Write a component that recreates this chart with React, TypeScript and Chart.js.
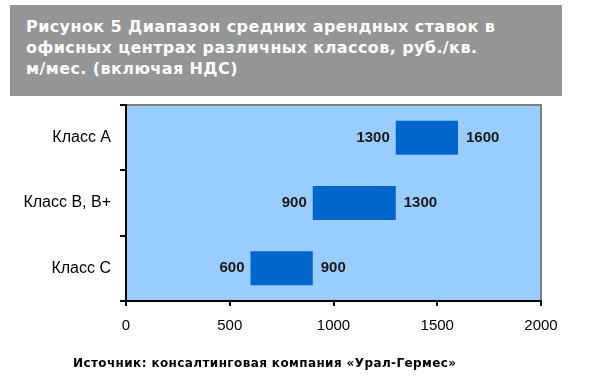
import React, { useEffect, useRef } from "react";
import { Chart, registerables } from "chart.js";

Chart.register(...registerables);

const categories = ["Класс A", "Класс B, B+", "Класс C"];
const rangeStart = [1300, 900, 600];
const rangeEnd = [1600, 1300, 900];
const xTicks = [0, 500, 1000, 1500, 2000];
const titleLines = [
  "Рисунок 5 Диапазон средних арендных ставок в",
  "офисных центрах различных классов, руб./кв.",
  "м/мес. (включая НДС)",
];
const sourceText = "Источник: консалтинговая компания «Урал-Гермес»";

const plotBg = {
  id: "plotBg",
  beforeDraw(chart: any) {
    const { ctx, chartArea } = chart;
    ctx.save();
    ctx.fillStyle = "#99CCFF";
    ctx.fillRect(chartArea.left, chartArea.top, chartArea.right - chartArea.left, chartArea.bottom - chartArea.top);
    ctx.strokeStyle = "#808080";
    ctx.lineWidth = 2;
    ctx.beginPath();
    ctx.moveTo(chartArea.left, chartArea.top);
    ctx.lineTo(chartArea.right, chartArea.top);
    ctx.lineTo(chartArea.right, chartArea.bottom);
    ctx.stroke();
    ctx.restore();
  },
};

const rangeLabels = {
  id: "rangeLabels",
  afterDatasetsDraw(chart: any) {
    const { ctx } = chart;
    const meta = chart.getDatasetMeta(0);
    const xs = chart.scales.x;
    ctx.save();
    ctx.font = "bold 15px Arial, 'Liberation Sans', sans-serif";
    ctx.fillStyle = "#1a1a1a";
    ctx.textBaseline = "middle";
    meta.data.forEach((bar: any, i: number) => {
      const y = bar.y;
      const x0 = xs.getPixelForValue(rangeStart[i]);
      const x1 = xs.getPixelForValue(rangeEnd[i]);
      ctx.textAlign = "right";
      ctx.fillText(String(rangeStart[i]), x0 - 6, y);
      ctx.textAlign = "left";
      ctx.fillText(String(rangeEnd[i]), x1 + 8, y);
    });
    ctx.restore();
  },
};

export default function App() {
  const ref = useRef<HTMLCanvasElement | null>(null);
  useEffect(() => {
    document.body.style.margin = "0";
    if (!ref.current) return;
    const chart = new Chart(ref.current, {
      type: "bar",
      data: {
        labels: categories,
        datasets: [
          {
            data: categories.map((_, i) => [rangeStart[i], rangeEnd[i]]) as any,
            backgroundColor: "#0066CC",
            borderWidth: 0,
            categoryPercentage: 1,
            barPercentage: 0.52,
          },
        ],
      },
      options: {
        indexAxis: "y",
        animation: false,
        responsive: false,
        devicePixelRatio: 1,
        layout: { padding: { left: 0, top: 105, right: 48, bottom: 50 } },
        plugins: { legend: { display: false }, tooltip: { enabled: false }, title: { display: false } },
        scales: {
          x: {
            min: 0,
            max: 2000,
            afterBuildTicks(scale: any) {
              scale.ticks = xTicks.map((v) => ({ value: v }));
            },
            afterFit(scale: any) {
              scale.height = 34;
            },
            grid: { drawOnChartArea: false, drawTicks: true, tickLength: 5, color: "#000", lineWidth: 2 },
            border: { color: "#000", width: 2 },
            ticks: {
              color: "#000",
              padding: 11,
              font: { family: "Arial, 'Liberation Sans', sans-serif", size: 15 },
              maxRotation: 0,
              callback: (v: any) => String(v),
            },
          },
          y: {
            afterFit(scale: any) {
              scale.width = 126;
            },
            grid: { drawOnChartArea: false, drawTicks: true, tickLength: 6, color: "#000", lineWidth: 2, offset: true },
            border: { color: "#000", width: 2 },
            ticks: { color: "#000", padding: 9, font: { family: "Arial, 'Liberation Sans', sans-serif", size: 16 } },
          },
        },
      },
      plugins: [plotBg, rangeLabels],
    });
    return () => chart.destroy();
  }, []);

  return (
    <div style={{ position: "relative", width: 589, height: 385, background: "#fff", overflow: "hidden" }}>
      <div
        style={{
          position: "absolute",
          left: 10,
          top: 5,
          width: 552,
          height: 91,
          background: "#959595",
          boxSizing: "border-box",
          padding: "11px 0 0 16px",
          color: "#fff",
          fontFamily: "Tahoma, 'DejaVu Sans', sans-serif",
          fontWeight: "bold",
          fontSize: 16,
          letterSpacing: "0.4px",
          lineHeight: "21px",
          whiteSpace: "nowrap",
        }}
      >
        {titleLines.map((l, i) => (
          <div key={i}>{l}</div>
        ))}
      </div>
      <canvas ref={ref} width={589} height={385} style={{ position: "absolute", left: 0, top: 0 }} />
      <div
        style={{
          position: "absolute",
          left: 73,
          top: 356,
          fontFamily: "Tahoma, 'DejaVu Sans', sans-serif",
          fontWeight: "bold",
          fontSize: 12,
          letterSpacing: "0.4px",
          color: "#000",
          whiteSpace: "nowrap",
        }}
      >
        {sourceText}
      </div>
    </div>
  );
}
